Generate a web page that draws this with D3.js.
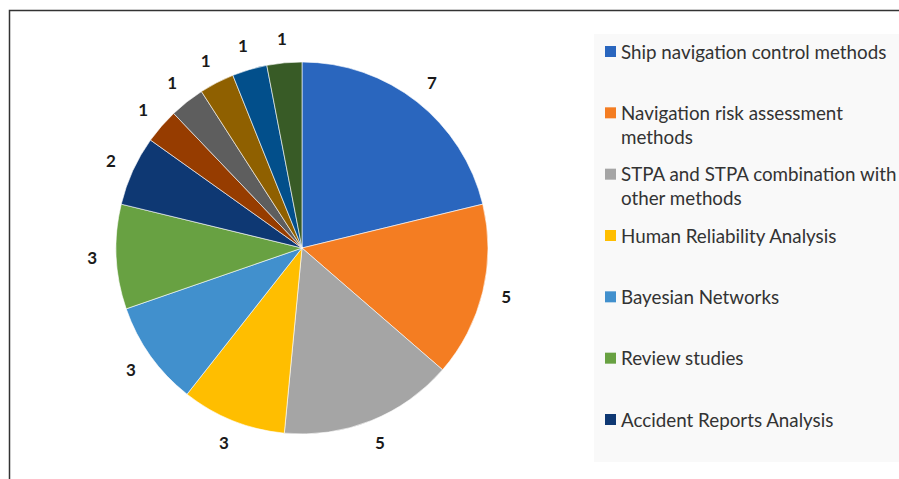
<!DOCTYPE html>
<html>
<head>
<meta charset="utf-8">
<script src="https://cdn.jsdelivr.net/npm/d3@7"></script>
<style>
  body { margin: 0; background: #fff; }
  svg { display: block; }
</style>
</head>
<body>
<div id="chart"></div>
<script>
// Slice values, clockwise from 12 o'clock
const values = [7, 5, 5, 3, 3, 3, 2, 1, 1, 1, 1, 1];
// Only the first seven legend entries fit in the visible legend box
const categories = [
  "Ship navigation control methods",
  "Navigation risk assessment methods",
  "STPA and STPA combination with other methods",
  "Human Reliability Analysis",
  "Bayesian Networks",
  "Review studies",
  "Accident Reports Analysis"
];
const colors = ["#2a66be", "#f47d22", "#a5a5a5", "#ffbe00", "#4190cd", "#68a142",
                "#0e3873", "#963c00", "#5e5e5e", "#8f6000", "#024f8b", "#385b26"];

const width = 899, height = 479;

const svg = d3.select("#chart")
  .append("svg")
  .attr("width", width)
  .attr("height", height);

// Frame (only top and left edges are visible in the crop)
svg.append("path")
  .attr("d", "M9.5,479 V10.5 H899")
  .attr("fill", "none")
  .attr("stroke", "#333")
  .attr("stroke-width", 1.5);

// Pie
const radius = 186;
const cx = 302, cy = 248;

const pie = d3.pie().sort(null).value(d => d);
const arc = d3.arc().innerRadius(0).outerRadius(radius);
const labelArc = d3.arc().innerRadius(radius + 24).outerRadius(radius + 24);

const g = svg.append("g")
  .attr("transform", "translate(" + cx + "," + cy + ")");

const slices = pie(values);

g.selectAll("path")
  .data(slices)
  .enter().append("path")
  .attr("d", arc)
  .attr("fill", (d, i) => colors[i])
  .attr("stroke", "#fff")
  .attr("stroke-width", 0.6);

g.selectAll("text")
  .data(slices)
  .enter().append("text")
  .attr("transform", d => "translate(" + labelArc.centroid(d) + ")")
  .attr("text-anchor", "middle")
  .attr("dy", "0.35em")
  .style("font-family", "Lato, 'Open Sans', sans-serif")
  .style("font-weight", "bold")
  .style("font-size", "17px")
  .style("fill", "#1a1a1a")
  .text(d => d.data);

// Legend
const legend = svg.append("g");
legend.append("rect")
  .attr("x", 594).attr("y", 34)
  .attr("width", 305).attr("height", 428)
  .attr("fill", "#f9f9f9");

const rowY = d3.scaleLinear().domain([0, 6]).range([52, 420]);
const wrapAt = { 1: ["Navigation risk assessment", "methods"],
                 2: ["STPA and STPA combination with", "other methods"] };

const items = legend.selectAll("g.item")
  .data(categories)
  .enter().append("g")
  .attr("class", "item")
  .attr("transform", (d, i) => "translate(605," + rowY(i) + ")");

items.append("rect")
  .attr("x", 0).attr("y", -6)
  .attr("width", 11).attr("height", 11)
  .attr("fill", (d, i) => colors[i]);

items.append("text")
  .attr("x", 16)
  .style("font-family", "Lato, 'Open Sans', sans-serif")
  .style("font-size", "18.8px")
  .style("fill", "#333")
  .each(function(d, i) {
    const lines = wrapAt[i] || [d];
    d3.select(this).selectAll("tspan")
      .data(lines)
      .enter().append("tspan")
      .attr("x", 16)
      .attr("y", (l, j) => j * 24)
      .attr("dy", "0.35em")
      .text(l => l);
  });
</script>
</body>
</html>
